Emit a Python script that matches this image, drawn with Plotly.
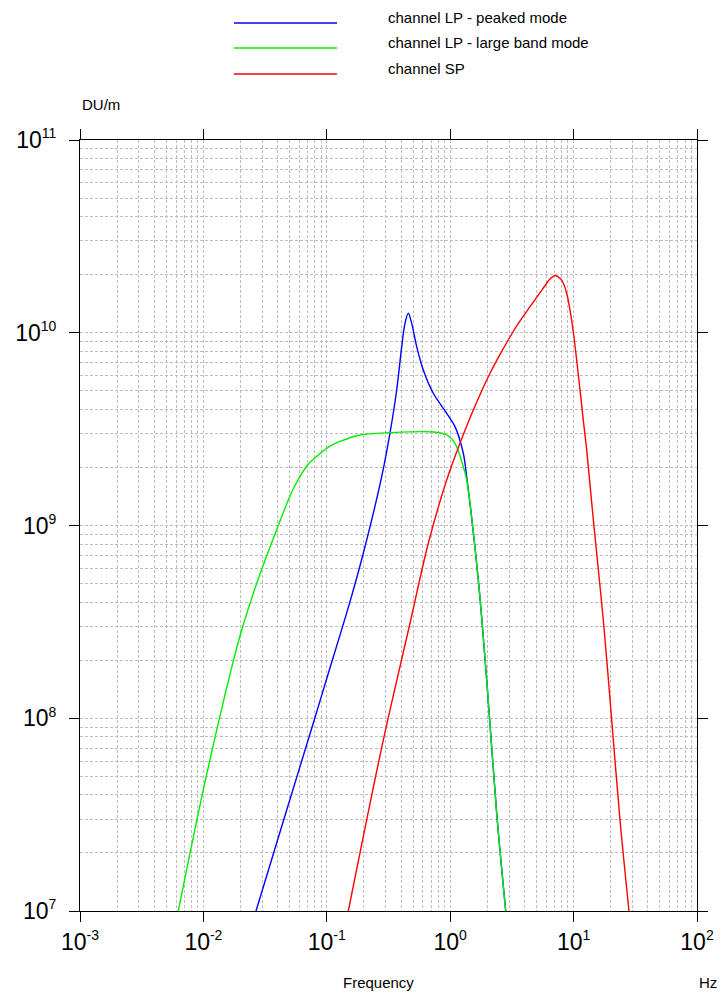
import plotly.graph_objects as go

# ---- data (Hz, DU/m) ----
lp_peaked_freq = [2.669e-2, 4.732e-2, 7.776e-2, 9.98e-2, 1.542e-1, 1.976e-1, 2.786e-1, 3.252e-1,
                  3.685e-1, 4.046e-1, 4.302e-1, 4.576e-1, 4.875e-1, 5.352e-1, 6.053e-1, 7.295e-1,
                  0.9367, 1.094, 1.277, 1.360, 1.690, 1.976, 2.381, 2.818]
lp_peaked_val = [1.0e7, 3.342e7, 9.441e7, 1.603e8, 4.027e8, 7.178e8, 1.791e9, 3.020e9,
                 5.047e9, 8.472e9, 1.119e10, 1.262e10, 1.119e10, 8.472e9, 6.412e9, 4.853e9,
                 3.819e9, 3.258e9, 2.371e9, 1.791e9, 5.21e8, 1.578e8, 3.214e7, 1.0e7]

lp_band_freq = [6.26e-3, 9.98e-3, 1.674e-2, 2.044e-2, 2.703e-2, 3.926e-2, 5.352e-2, 7.08e-2,
                8.81e-2, 1.061e-1, 1.279e-1, 1.858e-1, 3.252e-1, 7.295e-1, 0.9367, 1.094, 1.277,
                1.360, 1.690, 1.976, 2.381, 2.818]
lp_band_val = [1.0e7, 4.25e7, 1.778e8, 2.871e8, 5.01e8, 9.5e8, 1.55e9, 2.08e9,
               2.36e9, 2.58e9, 2.73e9, 2.948e9, 3.03e9, 3.055e9, 2.948e9, 2.670e9, 2.018e9,
               1.722e9, 5.21e8, 1.578e8, 3.214e7, 1.0e7]

sp_freq = [1.494e-1, 2.870e-1, 4.724e-1, 6.646e-1, 0.9367, 1.200, 1.539, 2.102, 2.533,
           3.052, 3.678, 4.434, 5.342, 6.053, 6.437, 7.069, 7.760, 8.251, 8.792, 9.350, 9.945,
           11.27, 11.98, 12.77, 14.45, 17.41, 20.36, 23.77, 28.11]
sp_val = [1.0e7, 7.709e7, 3.112e8, 8.091e8, 1.722e9, 2.670e9, 3.972e9, 6.16e9, 7.716e9,
          9.506e9, 1.151e10, 1.365e10, 1.614e10, 1.807e10, 1.900e10, 1.982e10, 1.916e10, 1.807e10,
          1.603e10, 1.312e10, 1.012e10, 5.047e9, 3.524e9, 2.466e9, 1.069e9, 3.236e8, 9.795e7,
          2.965e7, 1.0e7]

series_names = ["channel LP - peaked mode", "channel LP - large band mode", "channel SP"]
series_colors = ["#0000ff", "#00ee00", "#ff0000"]

x_tickvals = [1e-3, 1e-2, 1e-1, 1e0, 1e1, 1e2]
x_exponents = ["-3", "-2", "-1", "0", "1", "2"]
y_tickvals = [1e7, 1e8, 1e9, 1e10, 1e11]
y_exponents = ["7", "8", "9", "10", "11"]


def power_label(e):
    return "10<sup><span style='font-size:14px'>" + e + "</span></sup>"


FONT = "Liberation Sans, Arial, sans-serif"

fig = go.Figure()
for fx, vy, name, col in zip([lp_peaked_freq, lp_band_freq, sp_freq],
                             [lp_peaked_val, lp_band_val, sp_val],
                             series_names, series_colors):
    fig.add_trace(go.Scatter(x=fx, y=vy, mode="lines", name=name, showlegend=False,
                             line=dict(color=col, width=1.4, shape="spline", smoothing=0.9)))

grid = dict(gridcolor="#bdbdbd", griddash="3px,2px", gridwidth=1)
axis_common = dict(type="log", showline=True, linecolor="black", linewidth=1.2,
                   mirror="ticks", ticks="outside", ticklen=10, tickwidth=1.2, tickcolor="black",
                   showgrid=True, zeroline=False, automargin=False,
                   tickfont=dict(family=FONT, size=23, color="black"),
                   minor=dict(dtick="D1", showgrid=True, ticks="", **grid), **grid)

fig.update_xaxes(range=[-3, 2], tickvals=x_tickvals,
                 ticktext=[power_label(e) for e in x_exponents], **axis_common)
fig.update_yaxes(range=[7, 11], tickvals=y_tickvals,
                 ticktext=[power_label(e) for e in y_exponents],
                 ticklabelstandoff=8, **axis_common)

# legend drawn manually (paper coordinates)
legend_y = [1.1518, 1.1193, 1.0856]
shapes = []
annotations = []
for ly, name, col in zip(legend_y, series_names, series_colors):
    shapes.append(dict(type="line", xref="paper", yref="paper", x0=0.2496, x1=0.4165,
                       y0=ly, y1=ly, line=dict(color=col, width=1.4)))
    annotations.append(dict(xref="paper", yref="paper", x=0.4965, y=ly + 0.0072,
                            xanchor="left", yanchor="middle", text=name, showarrow=False,
                            font=dict(family=FONT, size=15, color="black")))

annotations += [
    dict(xref="paper", yref="paper", x=0.0, y=1.0454, xanchor="left", yanchor="middle",
         text="DU/m", showarrow=False, font=dict(family=FONT, size=15, color="black")),
    dict(xref="paper", yref="paper", x=0.4846, y=-0.0921, xanchor="center", yanchor="middle",
         text="Frequency", showarrow=False, font=dict(family=FONT, size=15, color="black")),
    dict(xref="paper", yref="paper", x=1.0, y=-0.0921, xanchor="left", yanchor="middle",
         text="Hz", showarrow=False, font=dict(family=FONT, size=15, color="black")),
]

fig.update_layout(width=721, height=996, margin=dict(l=80, r=24, t=140, b=85, autoexpand=False),
                  paper_bgcolor="white", plot_bgcolor="white",
                  shapes=shapes, annotations=annotations,
                  font=dict(family=FONT, color="black"))

fig.write_html("out.html", config={"displayModeBar": False},
               post_script="document.documentElement.style.margin='0';"
                           "document.body.style.margin='0';"
                           "document.body.style.overflow='hidden';")
